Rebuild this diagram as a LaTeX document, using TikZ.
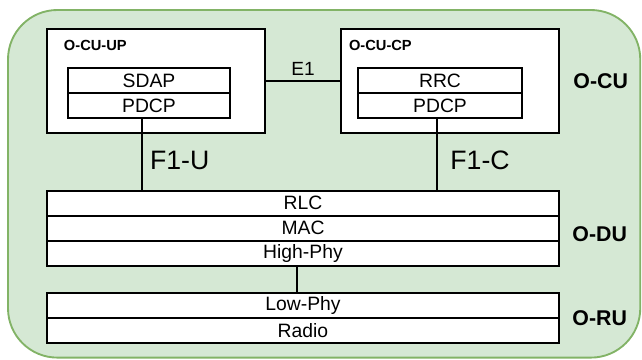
\documentclass[tikz,border=0pt]{standalone}
\usepackage{fontspec}
\setmainfont{Liberation Sans}
\usepackage{tikz}
\usetikzlibrary{positioning}
\definecolor{oranfill}{HTML}{D5E8D4}
\definecolor{oranline}{HTML}{82B366}

\begin{document}
\begin{tikzpicture}[
    x=1pt,y=-1pt,
    line width=1.5pt,
    node distance=0pt,
    unit/.style={draw, fill=white, minimum width=163.5pt, minimum height=78pt},
    layer/.style={draw, fill=white, outer sep=0pt, inner sep=0pt, minimum height=18.75pt, font=\fontsize{14.5}{16}\selectfont},
    unitlabel/.style={anchor=west, font=\bfseries\fontsize{11}{12}\selectfont},
    tag/.style={font=\bfseries\fontsize{16}{18}\selectfont},
    iface/.style={font=\fontsize{20}{22}\selectfont}
]
    \useasboundingbox (0,0) rectangle (481.5,270);
    \filldraw[fill=oranfill, draw=oranline, line width=1.4pt, rounded corners=37pt] (6,7.5) rectangle (480.2,268.2);

    % central unit
    \node[unit] (cuup) at (117,60.75) {};
    \node[unit] (cucp) at (337.5,60.75) {};
    \node[unitlabel] (cuuplbl) at ([xshift=9.4pt,yshift=-12.9pt]cuup.north west) {O-CU-UP};
    \node[unitlabel] (cucplbl) at ([xshift=2.7pt,yshift=-12.9pt]cucp.north west) {O-CU-CP};

    \node[layer, minimum width=121.5pt] (sdap)  at (111.75,60.4) {SDAP};
    \node[layer, minimum width=121.5pt] (pdcpu) [below=of sdap]  {PDCP};
    \node[layer, minimum width=123pt]   (rrc)   at (330,60.4)    {RRC};
    \node[layer, minimum width=123pt]   (pdcpc) [below=of rrc]   {PDCP};

    % distributed unit
    \node[layer, minimum width=384pt] (rlc)     at (227.25,152.5) {RLC};
    \node[layer, minimum width=384pt] (mac)     [below=of rlc]    {MAC};
    \node[layer, minimum width=384pt] (highphy) [below=of mac]    {High-Phy};

    % radio unit
    \node[layer, minimum width=384pt] (lowphy)  at (227.25,229.35) {Low-Phy};
    \node[layer, minimum width=384pt] (radio)   [below=of lowphy]  {Radio};

    \node[tag, right=6pt of cucp] (ocu) {O-CU};
    \node[tag, right=6pt of mac, yshift=-4pt] (odu) {O-DU};
    \node[tag, anchor=west, right=6pt of lowphy.south east] (oru) {O-RU};

    \draw (cuup) -- (cucp) node[midway, above, font=\fontsize{14.3}{16}\selectfont] (e1) {E1};
    \draw ([xshift=-5.25pt]pdcpu.south) -- ([xshift=-5.25pt]pdcpu.south |- rlc.north)
        node[midway, right=2pt, yshift=-4.5pt, iface] (f1u) {F1-U};
    \draw ([xshift=-2.25pt]pdcpc.south) -- ([xshift=-2.25pt]pdcpc.south |- rlc.north)
        node[midway, right=6pt, yshift=-4.5pt, iface] (f1c) {F1-C};
    \draw ([xshift=-4.25pt]highphy.south) -- ([xshift=-4.25pt]highphy.south |- lowphy.north);
\end{tikzpicture}
\end{document}
